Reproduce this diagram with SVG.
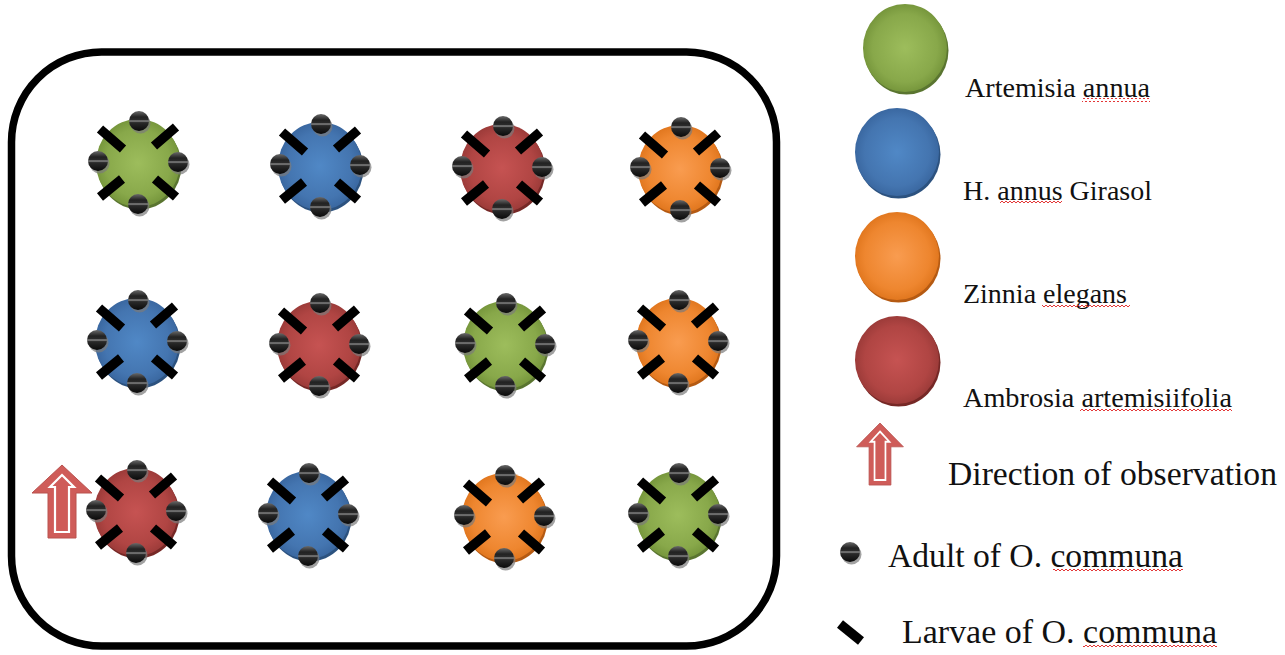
<svg xmlns="http://www.w3.org/2000/svg" xmlns:xlink="http://www.w3.org/1999/xlink" width="1285" height="655" viewBox="0 0 1285 655">
<style>
.lbl{font-family:"Liberation Serif","Times New Roman",serif;fill:#111;}
.sp{font-size:28px;}
.lg{font-size:33px;}
.larva{stroke:#000;stroke-width:9.5;stroke-linecap:butt;fill:none;}
.ashadow{fill:#7a7a7a;opacity:0.7;}
.adult{fill:url(#gAdult);}
.squig{fill:url(#pSquig);}
.arrOut{fill:#cf5c59;stroke:#b9524f;stroke-width:1;}
.arrIn{fill:#cf5c59;stroke:#fff;stroke-width:2.2;stroke-linejoin:miter;}
</style>
<defs>
<radialGradient id="gGreen" cx="0.5" cy="0.5" r="0.55"><stop offset="0" stop-color="#9dbd5c"/><stop offset="0.7" stop-color="#88a84a"/><stop offset="1" stop-color="#6f8f36"/></radialGradient>
<radialGradient id="gBlue" cx="0.5" cy="0.5" r="0.55"><stop offset="0" stop-color="#5088c6"/><stop offset="0.7" stop-color="#4475b0"/><stop offset="1" stop-color="#36629a"/></radialGradient>
<radialGradient id="gRed" cx="0.5" cy="0.5" r="0.55"><stop offset="0" stop-color="#c65352"/><stop offset="0.7" stop-color="#b04543"/><stop offset="1" stop-color="#943735"/></radialGradient>
<radialGradient id="gOrange" cx="0.5" cy="0.5" r="0.55"><stop offset="0" stop-color="#f99c50"/><stop offset="0.7" stop-color="#ee862f"/><stop offset="1" stop-color="#dc7118"/></radialGradient>
<linearGradient id="gAdult" x1="0" y1="0" x2="0" y2="1"><stop offset="0" stop-color="#6a6a6a"/><stop offset="0.3" stop-color="#222"/><stop offset="0.43" stop-color="#2a2a2a"/><stop offset="0.5" stop-color="#8a8a8a"/><stop offset="0.58" stop-color="#2a2a2a"/><stop offset="1" stop-color="#0a0a0a"/></linearGradient>
<pattern id="pSquig" patternUnits="userSpaceOnUse" width="4" height="4"><path d="M0,3 L2,1 L4,3" fill="none" stroke="#e02020" stroke-width="0.9"/></pattern>
<g id="adult"><circle class="ashadow" cx="1.5" cy="2.5" r="10"/><circle class="adult" cx="0" cy="0" r="10"/></g>
<g id="bugs">
<path class="larva" d="M-38,-34 L-15,-14 M38,-36 L16,-17 M-16,16 L-38,34 M17,16 L38,34"/>
<use xlink:href="#adult" x="1" y="-42"/>
<use xlink:href="#adult" x="-40" y="-2"/>
<use xlink:href="#adult" x="40" y="-1"/>
<use xlink:href="#adult" x="0" y="41"/>
</g>
<g id="pGreen"><ellipse cx="1.5" cy="2.5" rx="42" ry="44" fill="#5a7530"/><ellipse cx="0" cy="0" rx="42" ry="44" fill="url(#gGreen)"/></g>
<g id="pBlue"><ellipse cx="1.5" cy="2.5" rx="42" ry="44" fill="#2c527f"/><ellipse cx="0" cy="0" rx="42" ry="44" fill="url(#gBlue)"/></g>
<g id="pRed"><ellipse cx="1.5" cy="2.5" rx="42" ry="44" fill="#762826"/><ellipse cx="0" cy="0" rx="42" ry="44" fill="url(#gRed)"/></g>
<g id="pOrange"><ellipse cx="1.5" cy="2.5" rx="42" ry="44" fill="#b55a12"/><ellipse cx="0" cy="0" rx="42" ry="44" fill="url(#gOrange)"/></g>
<g id="arrow">
<polygon class="arrOut" points="0,0 30,28 14,28 14,73 -14,73 -14,28 -30,28"/>
<polygon class="arrIn" points="0,10 12,22 7,22 7,67 -7,67 -7,22 -12,22"/>
</g>
</defs>

<rect id="field" x="11.5" y="52" width="765" height="594" rx="90" ry="90" fill="none" stroke="#000" stroke-width="7.5"/>

<g id="plot-r1c1"><use xlink:href="#pGreen" x="138" y="163"/><use xlink:href="#bugs" x="138" y="163"/></g>
<g id="plot-r1c2"><use xlink:href="#pBlue" x="320" y="166"/><use xlink:href="#bugs" x="320" y="166"/></g>
<g id="plot-r1c3"><use xlink:href="#pRed" x="502" y="168"/><use xlink:href="#bugs" x="502" y="168"/></g>
<g id="plot-r1c4"><use xlink:href="#pOrange" x="680" y="169"/><use xlink:href="#bugs" x="680" y="169"/></g>

<g id="plot-r2c1"><use xlink:href="#pBlue" x="137" y="342"/><use xlink:href="#bugs" x="137" y="342"/></g>
<g id="plot-r2c2"><use xlink:href="#pRed" x="319" y="345"/><use xlink:href="#bugs" x="319" y="345"/></g>
<g id="plot-r2c3"><use xlink:href="#pGreen" x="505" y="345"/><use xlink:href="#bugs" x="505" y="345"/></g>
<g id="plot-r2c4"><use xlink:href="#pOrange" x="678" y="342"/><use xlink:href="#bugs" x="678" y="342"/></g>

<g id="plot-r3c1"><use xlink:href="#pRed" x="136" y="512"/><use xlink:href="#bugs" x="136" y="512"/></g>
<g id="plot-r3c2"><use xlink:href="#pBlue" x="308" y="515"/><use xlink:href="#bugs" x="308" y="515"/></g>
<g id="plot-r3c3"><use xlink:href="#pOrange" x="504" y="517"/><use xlink:href="#bugs" x="504" y="517"/></g>
<g id="plot-r3c4"><use xlink:href="#pGreen" x="678" y="515"/><use xlink:href="#bugs" x="678" y="515"/></g>

<g id="obs-arrow"><use xlink:href="#arrow" transform="translate(62,465)"/></g>

<g id="legend-artemisia">
<use xlink:href="#pGreen" x="905" y="48"/>
<text class="lbl sp" x="965" y="97" textLength="185" lengthAdjust="spacingAndGlyphs">Artemisia annua</text>
<rect class="squig" x="1082" y="98" width="68" height="4"/>
</g>
<g id="legend-helianthus">
<use xlink:href="#pBlue" x="897" y="152"/>
<text class="lbl sp" x="963" y="200" textLength="189" lengthAdjust="spacingAndGlyphs">H. annus Girasol</text>
<rect class="squig" x="1000" y="201" width="62" height="4"/>
</g>
<g id="legend-zinnia">
<use xlink:href="#pOrange" x="897" y="256"/>
<text class="lbl sp" x="963" y="303" textLength="164" lengthAdjust="spacingAndGlyphs">Zinnia elegans</text>
<rect class="squig" x="1042" y="305" width="88" height="4"/>
</g>
<g id="legend-ambrosia">
<use xlink:href="#pRed" x="897" y="360"/>
<text class="lbl sp" x="963" y="407" textLength="269" lengthAdjust="spacingAndGlyphs">Ambrosia artemisiifolia</text>
<rect class="squig" x="1080" y="408" width="152" height="4"/>
</g>
<g id="legend-direction">
<use xlink:href="#arrow" transform="translate(880,423) scale(0.78,0.85)"/>
<text class="lbl lg" x="948" y="485" textLength="329" lengthAdjust="spacingAndGlyphs">Direction of observation</text>
</g>
<g id="legend-adult">
<use xlink:href="#adult" x="850" y="552"/>
<text class="lbl lg" x="888" y="567" textLength="295" lengthAdjust="spacingAndGlyphs">Adult of O. communa</text>
<rect class="squig" x="1053" y="569" width="130" height="4"/>
</g>
<g id="legend-larva">
<path class="larva" d="M840,624 L861,641"/>
<text class="lbl lg" x="902" y="643" textLength="315" lengthAdjust="spacingAndGlyphs">Larvae of O. communa</text>
<rect class="squig" x="1083" y="645" width="134" height="4"/>
</g>
</svg>
